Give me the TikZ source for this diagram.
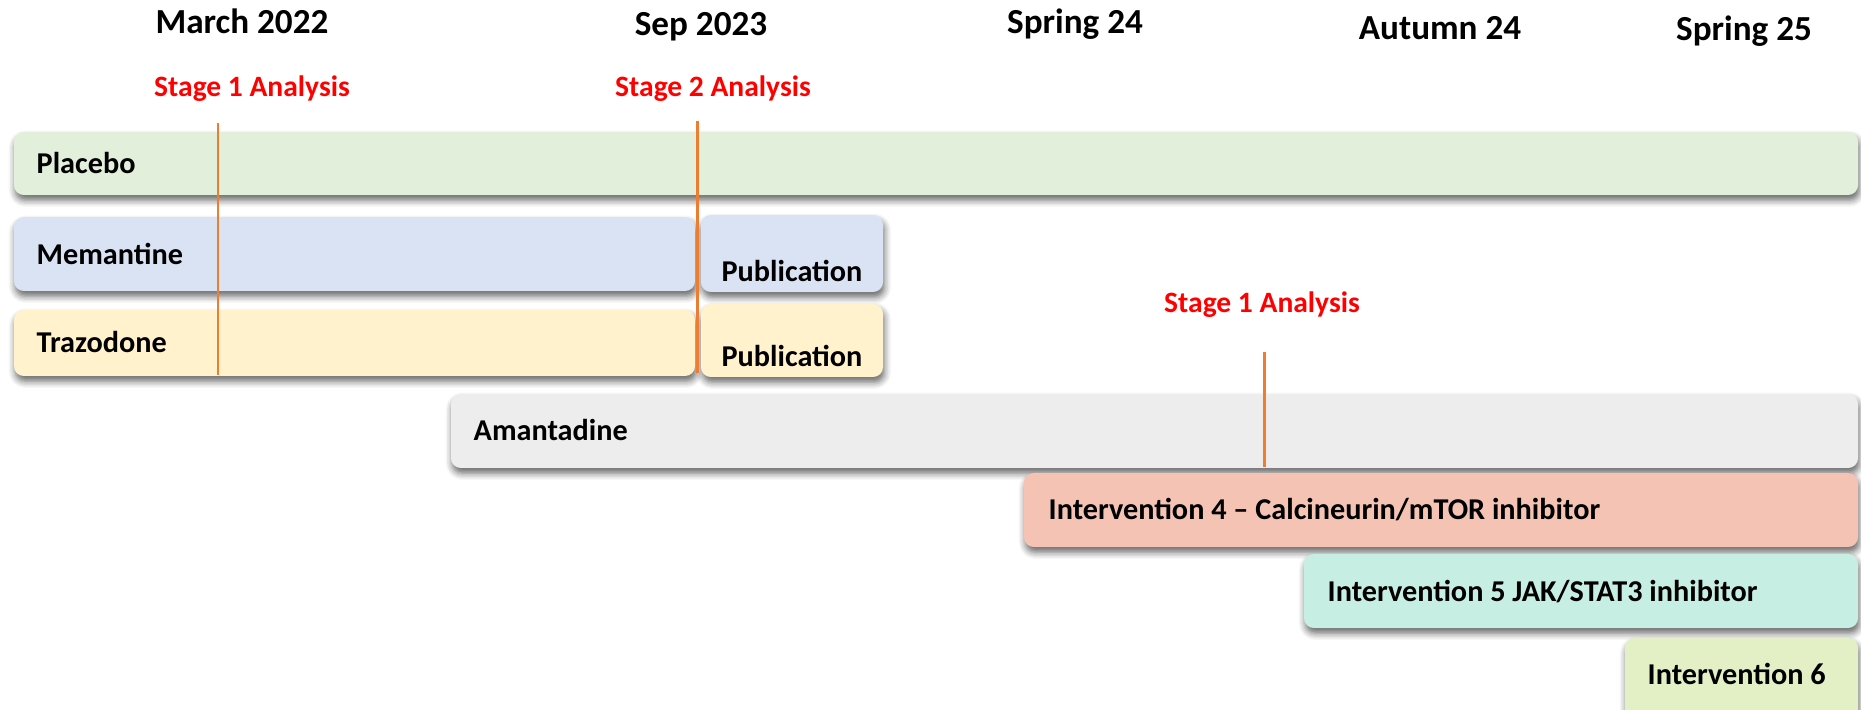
\documentclass[tikz,border=0pt]{standalone}
\usepackage{fontspec}
\setmainfont{Carlito}
\usepackage{xcolor}
\usetikzlibrary{shadows.blur}

\definecolor{placebo}{HTML}{E2EFDA}
\definecolor{memantine}{HTML}{DAE3F3}
\definecolor{trazodone}{HTML}{FFF2CC}
\definecolor{amantadine}{HTML}{EDEDED}
\definecolor{calcineurin}{HTML}{F4C3B4}
\definecolor{jakstat}{HTML}{C6EEE3}
\definecolor{intsix}{HTML}{E3EFC5}
\definecolor{milestone}{HTML}{ED7D31}

\begin{document}
\begin{tikzpicture}[x=0.01cm,y=-0.01cm,
  bar/.style={rounded corners=2.8pt,
    blur shadow={shadow xshift=0.4pt,shadow yshift=-1.5pt,shadow blur steps=5,shadow opacity=60}},
  hdr/.style={anchor=base,inner sep=0pt,font=\bfseries\fontsize{10}{12}\selectfont},
  stage/.style={anchor=base,inner sep=0pt,text=red,font=\bfseries\fontsize{8.4}{10}\selectfont},
  lbl/.style={anchor=base west,inner sep=0pt,font=\bfseries\fontsize{8.6}{10}\selectfont},
  pub/.style={anchor=base,inner sep=0pt,font=\bfseries\fontsize{8.6}{10}\selectfont},
  marker/.style={milestone,line width=0.85pt}]
  \useasboundingbox (0,0) rectangle (1861,710);

  \node[hdr] (mar22) at (242,34) {March 2022};
  \node[hdr] (sep23) at (701,36) {Sep 2023};
  \node[hdr] (spr24) at (1075,34) {Spring 24};
  \node[hdr] (aut24) at (1440,40) {Autumn 24};
  \node[hdr] (spr25) at (1744,41) {Spring 25};

  \node[stage] (stageone) at (252,97) {Stage 1 Analysis};
  \node[stage] (stagetwo) at (713,97) {Stage 2 Analysis};
  \node[stage] (stageam) at (1262,313) {Stage 1 Analysis};

  \fill[bar,placebo] (14,132) rectangle (1858,195);
  \fill[bar,memantine] (14,217) rectangle (695,291);
  \fill[bar,memantine] (701,215) rectangle (883,292);
  \fill[bar,trazodone] (14,310) rectangle (695,376);
  \fill[bar,trazodone] (701,304) rectangle (883,377);
  \fill[bar,amantadine] (451,394) rectangle (1858,468);
  \fill[bar,calcineurin] (1024,473) rectangle (1858,547);
  \fill[bar,jakstat] (1304,554) rectangle (1858,628);
  \fill[bar,intsix] (1625,638) rectangle (1858,730);

  \node[lbl] (plc) at (36,174) {Placebo};
  \node[lbl] (mem) at (36,265) {Memantine};
  \node[pub] (mempub) at (792,282) {Publication};
  \node[lbl] (traz) at (36,353) {Trazodone};
  \node[pub] (trazpub) at (792,367) {Publication};
  \node[lbl] (amant) at (473,441) {Amantadine};
  \node[lbl] (int4) at (1048,520) {Intervention 4 -- Calcineurin/mTOR inhibitor};
  \node[lbl] (int5) at (1327,602) {Intervention 5 JAK/STAT3 inhibitor};
  \node[lbl] (int6) at (1647,685) {Intervention 6};

  \coordinate (s1top) at (218,123);
  \coordinate (s1bot) at (218,375);
  \coordinate (s2top) at (697,121);
  \coordinate (s2bot) at (697,373);
  \coordinate (s3top) at (1264,352);
  \coordinate (s3bot) at (1264,467);
  \draw[marker] (s1top) -- (s1bot);
  \draw[marker] (s2top) -- (s2bot);
  \draw[marker] (s3top) -- (s3bot);
\end{tikzpicture}
\end{document}
